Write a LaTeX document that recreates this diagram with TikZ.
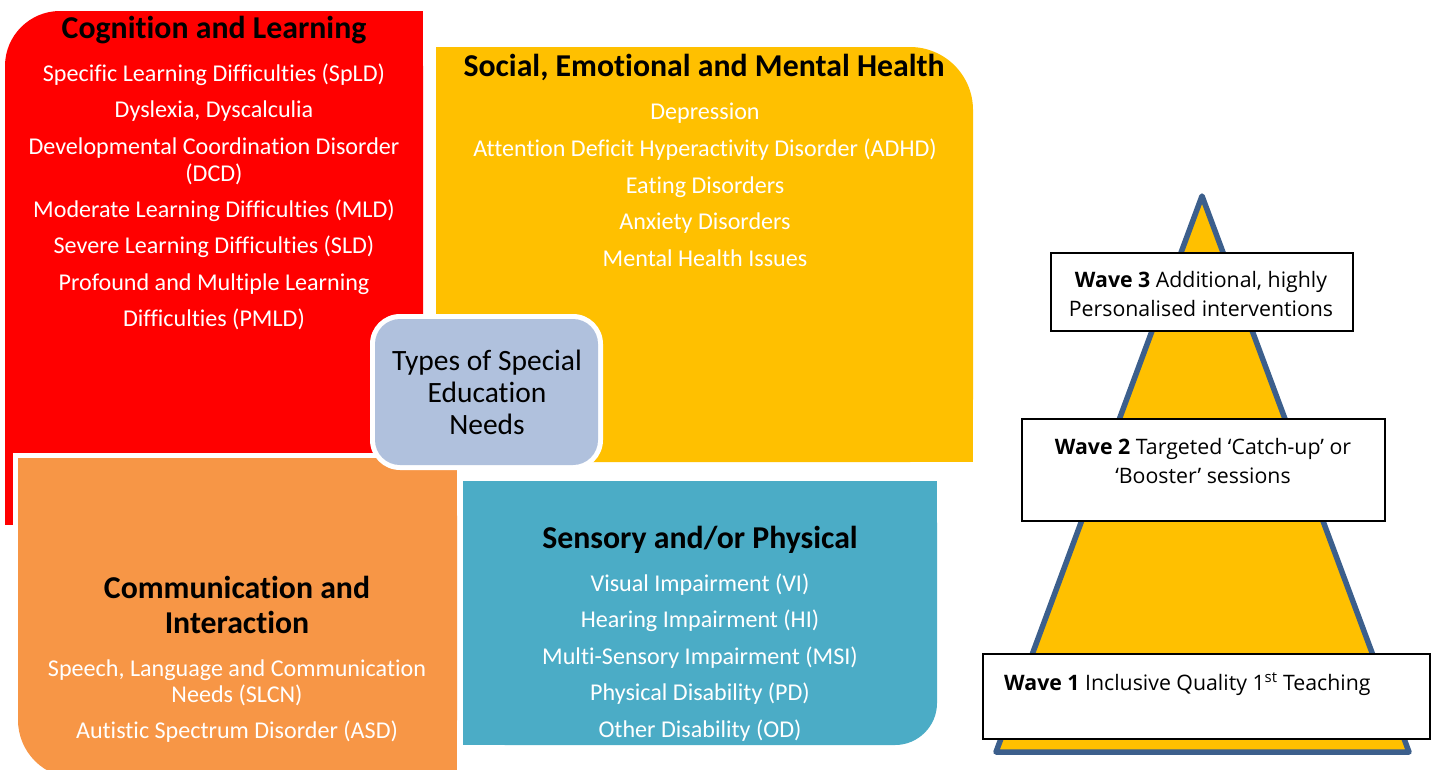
\documentclass[tikz,border=0pt]{standalone}
\usepackage{fontspec}
\setmainfont[Ligatures={NoCommon}]{Carlito}
\newfontfamily\wavefont[Ligatures={NoCommon}]{Open Sans}
\definecolor{cred}{HTML}{FF0000}
\definecolor{cyel}{HTML}{FFC000}
\definecolor{cora}{HTML}{F79646}
\definecolor{cblu}{HTML}{4BACC6}
\definecolor{ccen}{HTML}{B0C1DD}
\definecolor{cpyr}{HTML}{3C5F8C}
\begin{document}
\begin{tikzpicture}[x=1pt,y=-1pt,
  head/.style={font=\fontsize{31.8}{36}\selectfont\bfseries, text=black, anchor=base, inner sep=0pt, yshift=-1pt},
  item/.style={font=\fontsize{24.1}{28}\selectfont, text=white, anchor=base, inner sep=0pt, yshift=-1pt},
  centertext/.style={font=\fontsize{29.5}{33}\selectfont, text=black, anchor=base, inner sep=0pt, yshift=-1pt},
  wavebox/.style={draw=black, line width=1.6pt, fill=white, inner sep=0pt},
  wavetext/.style={font=\wavefont\fontsize{21.3}{25}\selectfont, text=black, inner sep=0pt}]
\useasboundingbox (0,0) rectangle (1434,769);
% Cognition and Learning (red, top-left rounded)
\fill[cred, rounded corners=55pt] (5,11) rectangle (423,525);
\fill[cred] (60,11) rectangle (423,525);
\fill[cred] (5,66) rectangle (423,525);
% Social, Emotional and Mental Health (yellow, top-right rounded)
\fill[cyel, rounded corners=63pt] (436,47) rectangle (973,462);
\fill[cyel] (436,47) rectangle (910,462);
\fill[cyel] (436,110) rectangle (973,462);
% Sensory and/or Physical (blue, bottom-right rounded)
\fill[cblu, rounded corners=42pt] (463,481) rectangle (937,745);
\fill[cblu] (463,481) rectangle (895,745);
\fill[cblu] (463,481) rectangle (937,703);
% Communication and Interaction (orange, bottom-left rounded, white rim)
\fill[white, rounded corners=63pt] (13,453) rectangle (462,783);
\fill[white] (76,453) rectangle (462,783);
\fill[white] (13,453) rectangle (462,720);
\fill[cora, rounded corners=58pt] (18,458) rectangle (457,778);
\fill[cora] (76,458) rectangle (457,778);
\fill[cora] (18,458) rectangle (457,720);
% centre box
\fill[white, rounded corners=30pt] (370,314) rectangle (603,470);
\fill[ccen, rounded corners=25pt] (375,319) rectangle (598,465);

% texts red
\node[head] (clh) at (214,37) {Cognition and Learning};
\node[item] (cl1) at (214,80) {Specific Learning Difficulties (SpLD)};
\node[item] (cl2) at (214,116) {Dyslexia, Dyscalculia};
\node[item] (cl3) at (214,153) {Developmental Coordination Disorder};
\node[item] (cl4) at (214,180) {(DCD)};
\node[item] (cl5) at (214,216) {Moderate Learning Difficulties (MLD)};
\node[item] (cl6) at (214,252) {Severe Learning Difficulties (SLD)};
\node[item] (cl7) at (214,289) {Profound and Multiple Learning};
\node[item] (cl8) at (214,325) {Difficulties (PMLD)};
% texts yellow
\node[head] (seh) at (704,75) {Social, Emotional and Mental Health};
\node[item] (se1) at (705,118) {Depression};
\node[item] (se2) at (705,155) {Attention Deficit Hyperactivity Disorder (ADHD)};
\node[item] (se3) at (705,192) {Eating Disorders};
\node[item] (se4) at (705,228) {Anxiety Disorders};
\node[item] (se5) at (705,265) {Mental Health Issues};
% texts blue
\node[head] (sph) at (700,547) {Sensory and/or Physical};
\node[item] (sp1) at (700,590) {Visual Impairment (VI)};
\node[item] (sp2) at (700,626) {Hearing Impairment (HI)};
\node[item] (sp3) at (700,663) {Multi-Sensory Impairment (MSI)};
\node[item] (sp4) at (700,699) {Physical Disability (PD)};
\node[item] (sp5) at (700,736) {Other Disability (OD)};
% texts orange
\node[head] (cih1) at (237,597) {Communication and};
\node[head] (cih2) at (237,632) {Interaction};
\node[item] (ci1) at (237,675) {Speech, Language and Communication};
\node[item] (ci2) at (237,701) {Needs (SLCN)};
\node[item] (ci3) at (237,737) {Autistic Spectrum Disorder (ASD)};
% centre text
\node[centertext] (ct1) at (487,369) {Types of Special};
\node[centertext] (ct2) at (487,401) {Education};
\node[centertext] (ct3) at (487,433) {Needs};

% pyramid
\draw[cpyr, line width=5.5pt, fill=cyel, line join=round] (1202,196) -- (1409,752) -- (996,752) -- cycle;
\node[wavebox, minimum width=302pt, minimum height=78pt] (w3) at (1202,292) {};
\node[wavebox, minimum width=363pt, minimum height=102pt] (w2) at (1203.5,470) {};
\node[wavebox, minimum width=447pt, minimum height=85pt] (w1) at (1206.5,696.5) {};
\node[wavetext, anchor=base] (w3a) at (1201,287) {\textbf{Wave 3} Additional, highly};
\node[wavetext, anchor=base] (w3b) at (1201,316) {Personalised interventions};
\node[wavetext, anchor=base] (w2a) at (1203,454) {\textbf{Wave 2} Targeted ‘Catch-up’ or};
\node[wavetext, anchor=base] (w2b) at (1203,483) {‘Booster’ sessions};
\node[wavetext, anchor=base west] (w1a) at (1004,690) {\textbf{Wave 1} Inclusive Quality 1\textsuperscript{st} Teaching};
\end{tikzpicture}
\end{document}
